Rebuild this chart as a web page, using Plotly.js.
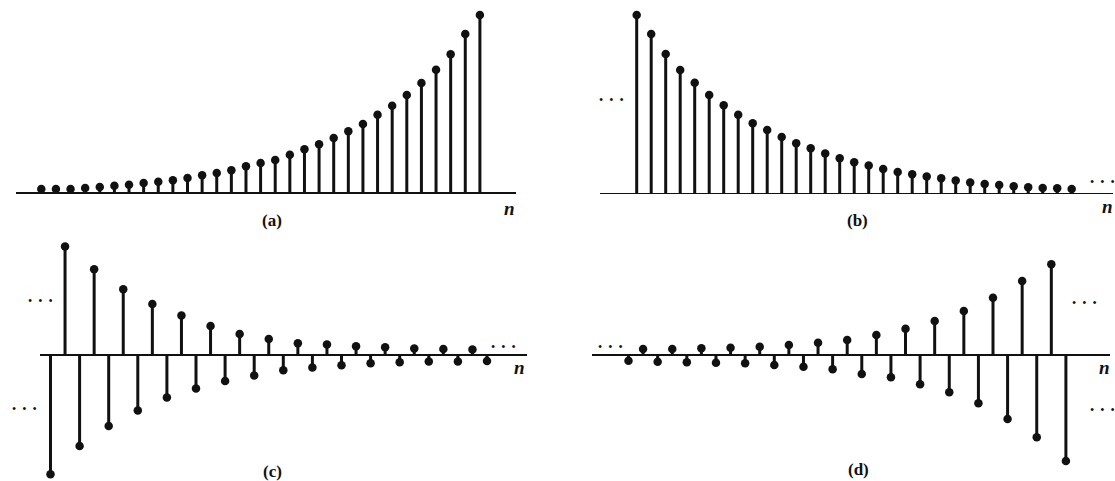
<!DOCTYPE html>
<html>
<head>
<meta charset="utf-8">
<script src="https://cdn.plot.ly/plotly-3.0.1.min.js"></script>
<style>html,body{margin:0;padding:0;background:#fff;}#chart{width:1115px;height:481px;}</style>
</head>
<body>
<div id="chart"></div>
<script>
// sample index n (shared by all four sequences)
const n = [0,1,2,3,4,5,6,7,8,9,10,11,12,13,14,15,16,17,18,19,20,21,22,23,24,25,26,27,28,29,30];
// (a) growing real exponential
const seqA = [4,4,4,5,6,7.3,8.3,10,11.3,12.7,15,17.7,20,22.7,26.7,30,33,38.3,43.7,48.7,55,61.7,69,78.3,87.3,98,110,123.3,138.7,159,178];
// (b) decaying real exponential
const seqB = [178.3,159.3,139.3,123.3,110.6,98.3,88,78.6,70,63.3,56.3,50,45,39.7,35,31,27.7,24.3,21.3,19,16.7,15,12.7,10.7,9.4,8.4,7,6,5.4,5,4.4];
// (c) decaying alternating exponential
const seqC = [-119,108.7,-90.7,86,-70.7,66,-55.3,51.3,-42.3,39.7,-33.3,29.3,-25.7,21.3,-20.3,16.3,-15,12,-12.3,10.7,-10,9,-8,8,-7,6.7,-6.3,6.3,-6.3,5.7,-5.7];
// (d) growing alternating exponential
const seqD = [-5.7,6,-6.7,6,-7.3,6.7,-7.7,7.3,-8.3,8.3,-10,10,-11.7,12.3,-14.3,15,-19,20,-22.3,26.3,-29.3,34,-37.3,44,-48.3,57.3,-64,74,-82.3,90.7,-106];
const panelLabels = ['(a)','(b)','(c)','(d)'];
const axisLabel = 'n';

const W = 1115, H = 481;
const fx = p => p / W;
const fy = p => 1 - p / H;
const INK = '#111';
const SERIF = '"Liberation Serif", "Times New Roman", Times, serif';

// layout geometry per panel (pixels)
const panels = [
  {data: seqA, xDom:[16,516],   x0:41.3,  dx:14.62, yDom:[5,200],   base:193,   lab:[272,220], nl:[509,208]},
  {data: seqB, xDom:[600,1113], x0:636.7, dx:14.5,  yDom:[5,200],   base:193.3, lab:[857,220], nl:[1107,206]},
  {data: seqC, xDom:[39.7,527], x0:50.5,  dx:14.55, yDom:[232,481], base:355.3, lab:[272,471], nl:[519,367]},
  {data: seqD, xDom:[592,1110], x0:628.5, dx:14.58, yDom:[232,481], base:355,   lab:[858,469], nl:[1104,367]}
];

const traces = [];
const layout = {
  width: W, height: H,
  margin: {l:0, r:0, t:0, b:0},
  paper_bgcolor: '#fff', plot_bgcolor: 'rgba(0,0,0,0)',
  showlegend: false,
  annotations: [],
  font: {family: SERIF, color: INK}
};

panels.forEach((p, i) => {
  const k = i === 0 ? '' : String(i + 1);
  const xa = 'x' + k, ya = 'y' + k;
  // stems built from the data arrays
  const sx = [], sy = [];
  n.forEach((v, j) => { sx.push(v, v, null); sy.push(0, p.data[j], null); });
  traces.push({type:'scatter', mode:'lines', x:sx, y:sy, xaxis:xa, yaxis:ya,
    line:{color:INK, width:3}, hoverinfo:'skip', cliponaxis:false});
  traces.push({type:'scatter', mode:'markers', x:n, y:p.data, xaxis:xa, yaxis:ya,
    marker:{color:INK, size:8.5, line:{width:0}}, cliponaxis:false});

  layout['xaxis' + k] = {
    domain:[fx(p.xDom[0]), fx(p.xDom[1])],
    range:[(p.xDom[0]-p.x0)/p.dx, (p.xDom[1]-p.x0)/p.dx],
    anchor: ya, showgrid:false, zeroline:false, showticklabels:false, ticks:'', showline:false, fixedrange:true
  };
  layout['yaxis' + k] = {
    domain:[fy(p.yDom[1]), fy(p.yDom[0])],
    range:[p.base - p.yDom[1], p.base - p.yDom[0]],
    anchor: xa, showgrid:false, zeroline:true, zerolinecolor:INK, zerolinewidth:1.6,
    showticklabels:false, ticks:'', showline:false, fixedrange:true
  };
  layout.annotations.push({xref:'paper', yref:'paper', x:fx(p.lab[0]), y:fy(p.lab[1]),
    text:'<b>' + panelLabels[i] + '</b>', showarrow:false, xanchor:'center', yanchor:'middle',
    font:{family:SERIF, size:17, color:INK}});
  layout.annotations.push({xref:'paper', yref:'paper', x:fx(p.nl[0]), y:fy(p.nl[1]),
    text:'<b><i>' + axisLabel + '</i></b>', showarrow:false, xanchor:'center', yanchor:'middle',
    font:{family:SERIF, size:19, color:INK}});
});

// continuation dots ("...")
const dotsText = '\u2022\u00A0\u00A0\u2022\u00A0\u00A0\u2022';
const dots = [[611,100],[1102,182],[40,301],[24,409],[503,347],[610,347],[1084,303],[1102,410]];
dots.forEach(d => layout.annotations.push({xref:'paper', yref:'paper', x:fx(d[0]), y:fy(d[1]),
  text:dotsText, showarrow:false, xanchor:'center', yanchor:'middle',
  font:{family:SERIF, size:12, color:INK}}));

Plotly.newPlot('chart', traces, layout, {staticPlot:true, displayModeBar:false});
</script>
</body>
</html>
